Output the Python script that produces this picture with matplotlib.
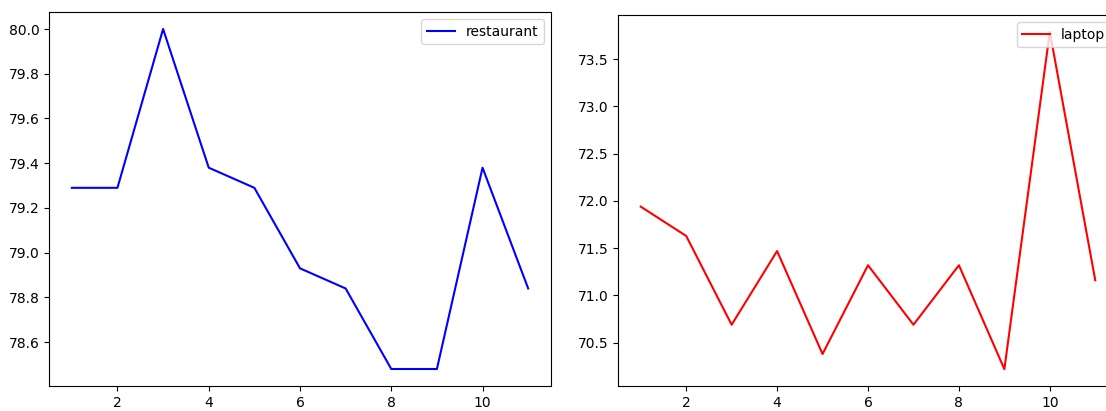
import matplotlib
matplotlib.use('Agg')
import matplotlib.pyplot as plt

epochs = [1, 2, 3, 4, 5, 6, 7, 8, 9, 10, 11]
restaurant = [79.29, 79.29, 80.00, 79.38, 79.29, 78.93, 78.84, 78.48, 78.48, 79.38, 78.84]
laptop = [71.94, 71.63, 70.69, 71.47, 70.38, 71.32, 70.69, 71.32, 70.22, 73.79, 71.16]

W, H = 1106, 411
fig = plt.figure(figsize=(W / 100, H / 100), dpi=100)

# левый график
ax1 = fig.add_axes([49 / W, 1 - 386 / H, 502 / W, 374 / H])
ax1.plot(epochs, restaurant, color='blue', label='restaurant')
ax1.legend(loc='upper right')

# правый график, обрезан справа
ax2 = fig.add_axes([618 / W, 1 - 386 / H, 500 / W, 371 / H])
ax2.plot(epochs, laptop, color='red', label='laptop')
ax2.legend(loc='upper right')

fig.savefig('out.png', dpi=100)
